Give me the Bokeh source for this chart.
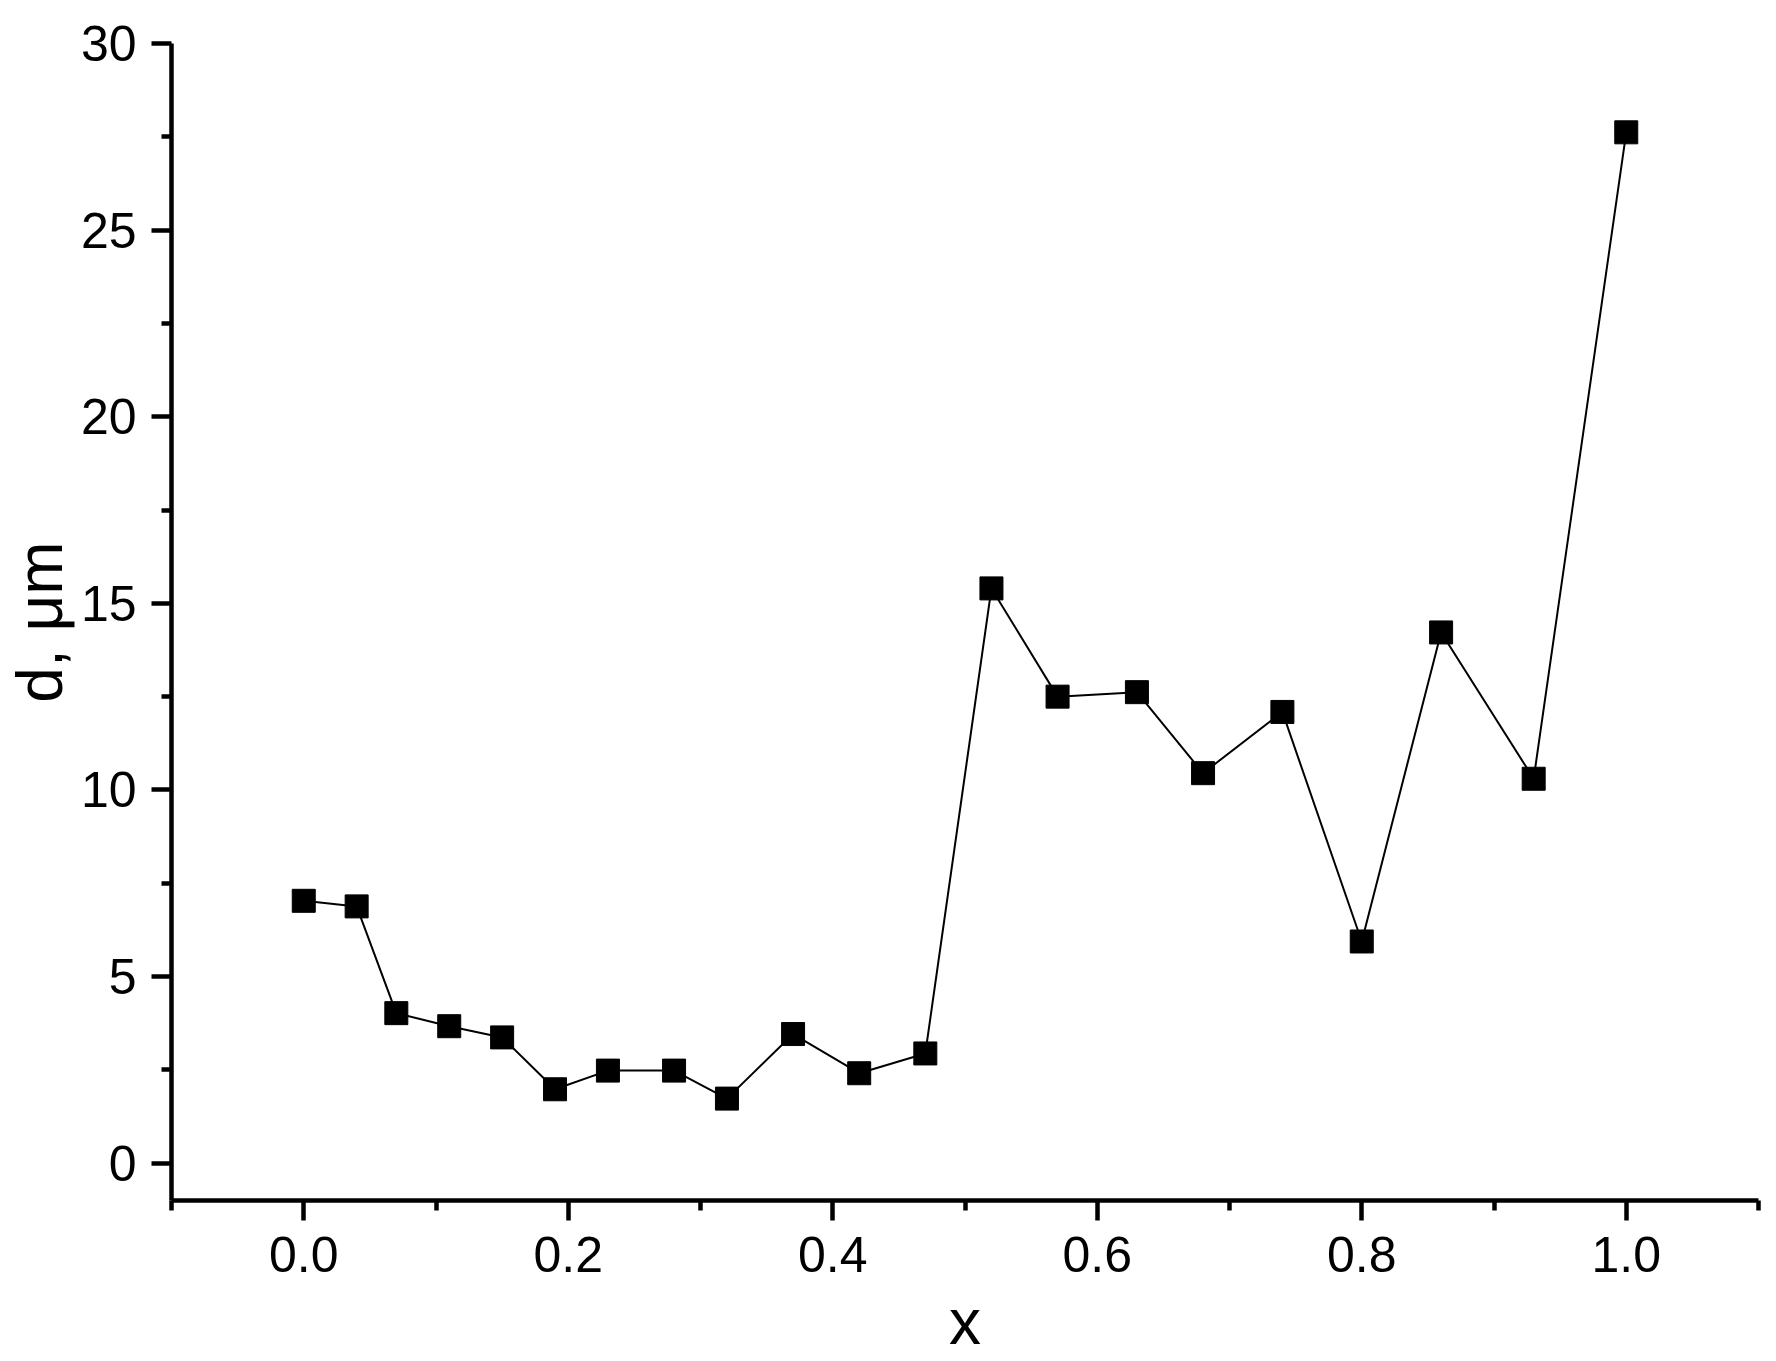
from bokeh.plotting import figure
from bokeh.models import FixedTicker, Range1d
from bokeh.embed import file_html
from bokeh.resources import INLINE

# data
x_vals = [0.0, 0.04, 0.07, 0.11, 0.15, 0.19, 0.23, 0.28, 0.32, 0.37, 0.42,
          0.47, 0.52, 0.57, 0.63, 0.68, 0.74, 0.80, 0.86, 0.93, 1.0]
d_vals = [7.03, 6.88, 4.02, 3.67, 3.37, 1.98, 2.48, 2.48, 1.73, 3.46, 2.41,
          2.94, 15.40, 12.50, 12.62, 10.45, 12.09, 5.94, 14.22, 10.30, 27.62]

x_ticks = [0.0, 0.2, 0.4, 0.6, 0.8, 1.0]
x_tick_labels = ["0.0", "0.2", "0.4", "0.6", "0.8", "1.0"]
x_minor = [-0.1, 0.1, 0.3, 0.5, 0.7, 0.9, 1.1]
y_ticks = [0, 5, 10, 15, 20, 25, 30]
y_tick_labels = ["0", "5", "10", "15", "20", "25", "30"]
y_minor = [2.5, 7.5, 12.5, 17.5, 22.5, 27.5]

FONT = "Liberation Sans"

p = figure(width=1766, height=1360, output_backend="svg", toolbar_location=None,
           x_range=Range1d(-0.1, 1.1), y_range=Range1d(-1, 30),
           min_border_left=166, min_border_right=8, min_border_top=43,
           min_border_bottom=155)
p.outline_line_color = None
p.xgrid.visible = False
p.ygrid.visible = False
p.background_fill_color = "white"
p.border_fill_color = "white"

p.line(x_vals, d_vals, line_color="black", line_width=2)
p.scatter(x_vals, d_vals, marker="square", size=23, fill_color="black", line_color="black")

p.xaxis.ticker = FixedTicker(ticks=x_ticks, minor_ticks=x_minor)
p.xaxis.major_label_overrides = dict(zip(x_ticks, x_tick_labels))
p.yaxis.ticker = FixedTicker(ticks=y_ticks, minor_ticks=y_minor)
p.yaxis.major_label_overrides = dict(zip(y_ticks, y_tick_labels))

p.xaxis.axis_label = "x"
p.yaxis.axis_label = "d, μm"

for ax in (p.xaxis, p.yaxis):
    ax.axis_line_width = 4.5
    ax.axis_line_color = "black"
    ax.major_tick_line_width = 4.5
    ax.minor_tick_line_width = 4.5
    ax.major_tick_line_color = "black"
    ax.minor_tick_line_color = "black"
    ax.major_tick_out = 20
    ax.major_tick_in = 0
    ax.minor_tick_out = 10
    ax.minor_tick_in = 0
    ax.major_label_text_font = FONT
    ax.major_label_text_font_size = "50px"
    ax.major_label_text_color = "black"
    ax.axis_label_text_font = FONT
    ax.axis_label_text_font_size = "64px"
    ax.axis_label_text_font_style = "normal"
    ax.axis_label_text_color = "black"

p.xaxis.major_label_standoff = 16
p.xaxis.axis_label_standoff = 11
p.yaxis.major_label_standoff = 15
p.yaxis.axis_label_standoff = 2

open("out.html", "w").write(file_html(p, INLINE))
